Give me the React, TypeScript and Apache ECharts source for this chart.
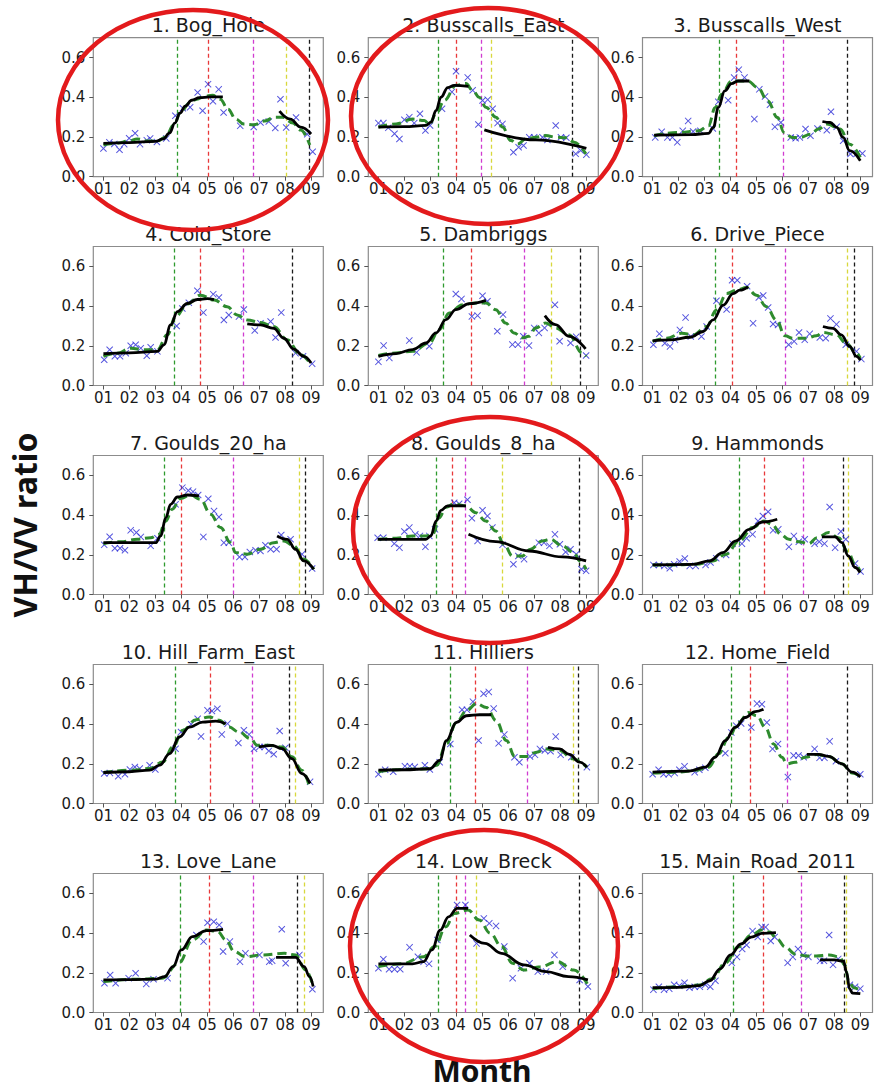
import React, { useEffect, useRef } from "react";
import * as echarts from "echarts";

type Pt = [number, number];
type VL = [number, string];

const TITLES = [
  "1. Bog_Hole", "2. Busscalls_East", "3. Busscalls_West",
  "4. Cold_Store", "5. Dambriggs", "6. Drive_Piece",
  "7. Goulds_20_ha", "8. Goulds_8_ha", "9. Hammonds",
  "10. Hill_Farm_East", "11. Hilliers", "12. Home_Field",
  "13. Love_Lane", "14. Low_Breck", "15. Main_Road_2011",
];
const MONTH_TICKS = [1, 2, 3, 4, 5, 6, 7, 8, 9];
const RATIO_TICKS = [0, 0.2, 0.4, 0.6];
const X_TITLE = "Month";
const Y_TITLE = "VH/VV ratio";

// ---------- 1. Bog_Hole ----------
const P1_SCATTER: Pt[] = [[1.0,0.142],[1.23,0.173],[1.42,0.165],[1.62,0.136],[1.8,0.164],[1.99,0.194],[2.22,0.219],[2.41,0.164],[2.67,0.184],[2.8,0.193],[3.06,0.175],[3.42,0.193],[3.77,0.307],[4.06,0.345],[4.34,0.35],[4.63,0.424],[4.82,0.332],[5.03,0.466],[5.22,0.38],[5.44,0.44],[5.63,0.323],[6.27,0.256],[6.79,0.25],[7.05,0.273],[7.37,0.278],[7.62,0.245],[7.82,0.39],[8.04,0.248],[8.42,0.298],[8.85,0.214],[9.06,0.126]];
const P1_SMOOTH: Pt[] = [[1.0,0.16],[1.5,0.168],[2.0,0.18],[2.3,0.19],[2.7,0.18],[3.1,0.18],[3.4,0.2],[3.7,0.26],[4.0,0.33],[4.3,0.37],[4.6,0.39],[4.9,0.405],[5.2,0.41],[5.5,0.39],[5.8,0.34],[6.1,0.29],[6.4,0.265],[6.8,0.262],[7.2,0.28],[7.6,0.3],[7.9,0.3],[8.3,0.27],[8.6,0.235],[8.95,0.16]];
const P1_FIT_A: Pt[] = [[1.0,0.168],[2.0,0.172],[3.0,0.178],[3.3,0.19],[3.55,0.22],[3.75,0.27],[3.95,0.32],[4.15,0.355],[4.4,0.385],[4.7,0.398],[5.1,0.402],[5.6,0.402]];
const P1_FIT_B: Pt[] = [[7.78,0.33],[8.2,0.29],[8.6,0.25],[9.0,0.215]];
const P1_VLINES: VL[] = [[3.86,"g"],[5.05,"r"],[6.79,"m"],[8.04,"y"],[8.92,"k"]];

// ---------- 2. Busscalls_East ----------
const P2_SCATTER: Pt[] = [[1.0,0.27],[1.19,0.27],[1.38,0.246],[1.62,0.216],[1.81,0.19],[2.0,0.287],[2.19,0.3],[2.38,0.27],[2.6,0.317],[2.81,0.233],[2.99,0.258],[3.45,0.342],[3.83,0.427],[3.99,0.531],[4.44,0.5],[4.63,0.435],[4.85,0.263],[5.01,0.384],[5.21,0.388],[5.4,0.342],[5.59,0.27],[5.78,0.266],[6.2,0.123],[6.4,0.148],[6.59,0.157],[6.81,0.199],[7.0,0.199],[7.32,0.199],[7.51,0.185],[7.83,0.258],[8.03,0.199],[8.24,0.196],[8.6,0.115],[8.79,0.132],[9.01,0.111]];
const P2_SMOOTH: Pt[] = [[1.0,0.25],[1.68,0.266],[2.32,0.29],[2.77,0.283],[2.96,0.263],[3.22,0.317],[3.54,0.384],[3.99,0.46],[4.37,0.469],[4.63,0.435],[4.88,0.4],[5.14,0.35],[5.53,0.3],[5.78,0.25],[6.1,0.182],[6.36,0.165],[6.68,0.19],[7.06,0.199],[7.45,0.207],[7.83,0.199],[8.22,0.196],[8.54,0.174],[8.99,0.115]];
const P2_FIT_A: Pt[] = [[1.0,0.25],[2.0,0.252],[2.83,0.258],[3.03,0.275],[3.22,0.334],[3.41,0.4],[3.67,0.449],[3.92,0.46],[4.47,0.455]];
const P2_FIT_B: Pt[] = [[5.08,0.236],[7.06,0.185],[9.01,0.143]];
const P2_VLINES: VL[] = [[3.32,"g"],[4.0,"r"],[4.96,"m"],[5.36,"y"],[8.45,"k"]];

// ---------- 3. Busscalls_West ----------
const P3_SCATTER: Pt[] = [[1.1,0.198],[1.35,0.226],[1.57,0.198],[1.76,0.198],[1.95,0.173],[2.16,0.231],[2.37,0.281],[2.56,0.228],[2.84,0.231],[3.32,0.243],[3.53,0.377],[3.91,0.385],[4.14,0.499],[4.32,0.539],[4.54,0.499],[4.92,0.29],[5.11,0.44],[5.33,0.404],[5.52,0.362],[5.71,0.251],[5.94,0.273],[6.32,0.198],[6.51,0.194],[6.67,0.198],[6.89,0.24],[7.08,0.206],[7.35,0.243],[7.71,0.234],[7.87,0.327],[8.09,0.251],[8.34,0.181],[8.62,0.114],[8.87,0.117],[9.08,0.117]];
const P3_SMOOTH: Pt[] = [[1.06,0.206],[2.01,0.223],[2.77,0.231],[3.15,0.256],[3.41,0.348],[3.66,0.415],[4.04,0.482],[4.67,0.482],[5.05,0.449],[5.43,0.382],[5.81,0.298],[6.06,0.223],[6.38,0.198],[6.7,0.198],[7.08,0.214],[7.39,0.24],[7.71,0.265],[8.22,0.24],[8.59,0.164],[9.0,0.097]];
const P3_FIT_A: Pt[] = [[1.06,0.209],[2.5,0.212],[3.15,0.218],[3.34,0.248],[3.53,0.348],[3.78,0.432],[4.04,0.469],[4.29,0.482],[4.73,0.482]];
const P3_FIT_B: Pt[] = [[7.54,0.278],[7.84,0.273],[8.09,0.248],[8.34,0.198],[8.59,0.131],[9.0,0.08]];
const P3_VLINES: VL[] = [[3.57,"g"],[4.23,"r"],[6.04,"m"],[8.49,"k"]];

// ---------- 4. Cold_Store ----------
const P4_SCATTER: Pt[] = [[1.03,0.13],[1.24,0.18],[1.44,0.147],[1.64,0.147],[1.86,0.163],[2.05,0.2],[2.24,0.205],[2.44,0.188],[2.67,0.15],[2.82,0.193],[3.08,0.172],[3.82,0.3],[4.04,0.388],[4.29,0.417],[4.62,0.477],[4.85,0.367],[5.23,0.46],[5.45,0.443],[5.64,0.33],[5.83,0.355],[6.22,0.347],[6.41,0.383],[6.83,0.277],[7.05,0.313],[7.44,0.322],[7.63,0.242],[7.85,0.367],[8.4,0.163],[8.69,0.147],[9.04,0.11]];
const P4_SMOOTH: Pt[] = [[1.0,0.147],[1.54,0.163],[2.05,0.188],[2.56,0.18],[3.08,0.18],[3.46,0.255],[3.78,0.347],[4.23,0.41],[4.74,0.455],[5.26,0.43],[5.77,0.397],[6.15,0.355],[6.54,0.33],[7.05,0.317],[7.56,0.297],[8.08,0.23],[8.59,0.155],[9.0,0.105]];
const P4_FIT_A: Pt[] = [[1.0,0.16],[2.0,0.164],[3.08,0.172],[3.33,0.205],[3.59,0.305],[3.85,0.372],[4.23,0.413],[4.62,0.433],[5.0,0.438],[5.26,0.433]];
const P4_FIT_B: Pt[] = [[6.54,0.31],[7.05,0.305],[7.56,0.288],[7.95,0.238],[8.33,0.183],[8.72,0.147],[9.0,0.113]];
const P4_VLINES: VL[] = [[3.74,"g"],[4.74,"r"],[6.38,"m"],[8.27,"k"]];

// ---------- 5. Dambriggs ----------
const P5_SCATTER: Pt[] = [[1.0,0.119],[1.2,0.201],[1.42,0.139],[2.19,0.226],[2.47,0.167],[2.96,0.198],[3.98,0.461],[4.2,0.436],[4.6,0.348],[4.82,0.352],[5.01,0.452],[5.2,0.424],[5.58,0.273],[5.8,0.357],[6.16,0.206],[6.38,0.206],[6.58,0.248],[6.8,0.201],[7.0,0.29],[7.18,0.265],[7.4,0.29],[7.8,0.407],[7.98,0.223],[8.4,0.214],[8.62,0.245],[9.0,0.151]];
const P5_SMOOTH: Pt[] = [[1.0,0.151],[1.68,0.164],[2.32,0.172],[2.96,0.214],[3.34,0.281],[3.73,0.365],[4.24,0.407],[4.75,0.415],[5.14,0.415],[5.52,0.382],[5.9,0.315],[6.22,0.265],[6.54,0.24],[6.8,0.248],[7.06,0.29],[7.44,0.315],[7.82,0.29],[8.34,0.256],[8.85,0.164],[9.0,0.147]];
const P5_FIT_A: Pt[] = [[1.0,0.147],[1.68,0.161],[2.32,0.181],[2.83,0.214],[3.22,0.265],[3.6,0.332],[3.98,0.382],[4.5,0.412],[5.14,0.429]];
const P5_FIT_B: Pt[] = [[7.41,0.352],[7.82,0.307],[8.34,0.248],[8.98,0.184]];
const P5_VLINES: VL[] = [[3.48,"g"],[4.59,"r"],[6.62,"m"],[7.66,"y"],[8.78,"k"]];

// ---------- 6. Drive_Piece ----------
const P6_SCATTER: Pt[] = [[1.03,0.205],[1.26,0.26],[1.47,0.213],[1.67,0.197],[1.86,0.23],[2.05,0.28],[2.27,0.342],[2.47,0.247],[2.88,0.247],[3.08,0.297],[3.46,0.427],[3.85,0.383],[4.06,0.53],[4.26,0.53],[4.64,0.5],[4.87,0.313],[5.09,0.443],[5.26,0.453],[5.45,0.393],[5.64,0.31],[5.83,0.305],[6.24,0.205],[6.45,0.222],[6.64,0.267],[6.86,0.23],[7.05,0.26],[7.44,0.242],[7.67,0.238],[7.85,0.338],[8.08,0.308],[8.44,0.205],[8.85,0.172],[9.04,0.133]];
const P6_SMOOTH: Pt[] = [[1.0,0.222],[1.54,0.238],[2.12,0.263],[2.56,0.255],[3.08,0.297],[3.46,0.38],[3.85,0.463],[4.23,0.48],[4.62,0.493],[5.0,0.455],[5.38,0.397],[5.77,0.33],[6.1,0.25],[6.41,0.238],[6.92,0.238],[7.31,0.25],[7.56,0.267],[8.08,0.255],[8.46,0.213],[8.85,0.163],[9.0,0.138]];
const P6_FIT_A: Pt[] = [[1.0,0.225],[1.67,0.23],[2.44,0.243],[2.95,0.272],[3.33,0.33],[3.72,0.405],[4.1,0.463],[4.36,0.48],[4.68,0.497]];
const P6_FIT_B: Pt[] = [[7.56,0.297],[7.95,0.288],[8.27,0.255],[8.59,0.197],[8.85,0.147],[9.0,0.127]];
const P6_VLINES: VL[] = [[3.41,"g"],[4.08,"r"],[6.12,"m"],[8.51,"y"],[8.77,"k"]];

// ---------- 7. Goulds_20_ha ----------
const P7_SCATTER: Pt[] = [[1.03,0.25],[1.24,0.291],[1.44,0.233],[1.64,0.233],[1.83,0.223],[2.05,0.323],[2.27,0.312],[2.44,0.29],[2.82,0.245],[3.08,0.283],[3.78,0.454],[4.04,0.538],[4.27,0.524],[4.45,0.518],[4.65,0.501],[4.85,0.29],[5.04,0.482],[5.26,0.42],[5.45,0.39],[5.64,0.261],[5.83,0.261],[6.24,0.189],[6.45,0.189],[6.64,0.214],[6.86,0.223],[7.05,0.219],[7.24,0.248],[7.44,0.228],[7.67,0.228],[7.85,0.3],[8.21,0.278],[8.65,0.203],[9.04,0.131]];
const P7_SMOOTH: Pt[] = [[1.0,0.256],[1.67,0.266],[2.31,0.278],[2.82,0.286],[3.14,0.303],[3.4,0.37],[3.65,0.429],[3.97,0.484],[4.36,0.501],[4.74,0.479],[5.13,0.404],[5.51,0.337],[5.9,0.261],[6.09,0.211],[6.54,0.203],[7.05,0.228],[7.56,0.261],[7.95,0.27],[8.33,0.245],[8.72,0.178],[9.1,0.127]];
const P7_FIT_A: Pt[] = [[1.0,0.261],[2.0,0.261],[3.01,0.261],[3.21,0.295],[3.4,0.387],[3.59,0.454],[3.85,0.491],[4.23,0.501],[4.68,0.497]];
const P7_FIT_B: Pt[] = [[7.69,0.295],[8.08,0.278],[8.4,0.228],[8.72,0.169],[9.1,0.127]];
const P7_VLINES: VL[] = [[3.33,"g"],[4.0,"r"],[6.0,"m"],[8.56,"y"],[8.78,"k"]];

// ---------- 8. Goulds_8_ha ----------
const P8_SCATTER: Pt[] = [[0.97,0.286],[1.19,0.286],[1.61,0.256],[1.81,0.236],[2.0,0.317],[2.19,0.337],[2.42,0.303],[2.6,0.295],[2.81,0.24],[2.96,0.295],[3.18,0.328],[3.92,0.462],[4.11,0.457],[4.43,0.477],[4.6,0.384],[4.82,0.27],[5.01,0.424],[5.2,0.395],[5.39,0.337],[5.78,0.25],[6.2,0.152],[6.39,0.194],[6.61,0.178],[7.18,0.261],[7.38,0.261],[7.59,0.245],[7.8,0.303],[7.99,0.253],[8.21,0.214],[8.4,0.228],[8.62,0.203],[8.82,0.127],[9.0,0.119]];
const P8_SMOOTH: Pt[] = [[1.0,0.278],[1.68,0.283],[2.32,0.295],[2.83,0.295],[3.09,0.303],[3.34,0.387],[3.6,0.44],[3.92,0.457],[4.37,0.446],[4.75,0.412],[5.14,0.37],[5.52,0.32],[5.84,0.253],[6.16,0.194],[6.54,0.194],[6.86,0.228],[7.31,0.27],[7.63,0.278],[8.08,0.245],[8.53,0.211],[8.75,0.169],[9.0,0.127]];
const P8_FIT_A: Pt[] = [[0.97,0.278],[2.0,0.278],[2.83,0.278],[3.02,0.295],[3.22,0.37],[3.41,0.424],[3.66,0.446],[3.98,0.447],[4.37,0.446]];
const P8_FIT_B: Pt[] = [[4.47,0.303],[5.52,0.266],[6.8,0.219],[8.08,0.189],[9.0,0.169]];
const P8_VLINES: VL[] = [[3.22,"g"],[3.86,"r"],[4.33,"m"],[5.78,"y"],[8.72,"k"]];

// ---------- 9. Hammonds ----------
const P9_SCATTER: Pt[] = [[1.03,0.149],[1.25,0.149],[1.45,0.144],[1.66,0.132],[1.83,0.152],[2.04,0.166],[2.24,0.181],[2.43,0.144],[2.66,0.144],[3.04,0.149],[3.23,0.161],[3.45,0.183],[3.83,0.199],[4.08,0.256],[4.44,0.256],[4.62,0.283],[4.85,0.303],[5.06,0.37],[5.25,0.395],[5.45,0.417],[5.64,0.323],[5.84,0.328],[6.25,0.24],[6.44,0.295],[6.63,0.266],[6.86,0.278],[7.24,0.256],[7.42,0.266],[7.62,0.256],[7.82,0.441],[8.03,0.236],[8.25,0.317],[8.44,0.278],[8.8,0.156],[9.01,0.116]];
const P9_SMOOTH: Pt[] = [[1.0,0.149],[1.92,0.149],[2.68,0.152],[3.32,0.169],[3.83,0.203],[4.34,0.27],[4.85,0.337],[5.29,0.37],[5.61,0.353],[5.93,0.303],[6.25,0.278],[6.63,0.266],[7.01,0.256],[7.33,0.286],[7.78,0.312],[8.16,0.286],[8.54,0.211],[8.8,0.152],[8.99,0.119]];
const P9_FIT_A: Pt[] = [[1.0,0.149],[2.55,0.152],[3.19,0.169],[3.7,0.211],[4.21,0.27],[4.72,0.328],[5.23,0.365],[5.8,0.379]];
const P9_FIT_B: Pt[] = [[7.52,0.29],[8.03,0.29],[8.29,0.261],[8.54,0.194],[8.8,0.136],[8.99,0.111]];
const P9_VLINES: VL[] = [[4.34,"g"],[5.29,"r"],[6.82,"m"],[8.35,"k"],[8.54,"y"]];

// ---------- 10. Hill_Farm_East ----------
const P10_SCATTER: Pt[] = [[1.03,0.151],[1.25,0.154],[1.57,0.137],[1.83,0.147],[2.02,0.171],[2.21,0.184],[2.4,0.176],[2.78,0.193],[3.0,0.171],[3.78,0.276],[3.99,0.36],[4.38,0.399],[4.63,0.427],[4.76,0.338],[5.01,0.469],[5.18,0.466],[5.39,0.477],[5.56,0.348],[5.78,0.402],[6.2,0.305],[6.41,0.369],[6.61,0.348],[6.8,0.276],[7.01,0.285],[7.21,0.285],[7.37,0.265],[7.56,0.248],[7.79,0.365],[8.01,0.281],[8.96,0.109]];
const P10_SMOOTH: Pt[] = [[1.0,0.156],[2.15,0.168],[2.78,0.176],[3.29,0.209],[3.68,0.285],[4.06,0.369],[4.57,0.422],[5.08,0.436],[5.46,0.419],[5.84,0.385],[6.22,0.36],[6.67,0.327],[6.92,0.293],[7.37,0.293],[7.88,0.285],[8.26,0.235],[8.64,0.168],[8.96,0.075]];
const P10_FIT_A: Pt[] = [[1.0,0.156],[2.0,0.16],[2.78,0.168],[3.17,0.193],[3.55,0.251],[3.93,0.335],[4.31,0.385],[4.82,0.41],[5.33,0.415],[5.71,0.402]];
const P10_FIT_B: Pt[] = [[6.99,0.285],[7.5,0.293],[7.88,0.276],[8.26,0.226],[8.64,0.151],[8.96,0.101]];
const P10_VLINES: VL[] = [[3.78,"g"],[5.1,"r"],[6.73,"m"],[8.17,"k"],[8.39,"y"]];

// ---------- 11. Hilliers ----------
const P11_SCATTER: Pt[] = [[1.0,0.147],[1.26,0.17],[1.57,0.16],[2.02,0.188],[2.21,0.188],[2.4,0.184],[2.79,0.193],[2.98,0.171],[3.36,0.208],[3.77,0.3],[4.22,0.472],[4.41,0.472],[4.64,0.513],[4.86,0.317],[5.05,0.553],[5.25,0.562],[5.44,0.478],[5.63,0.303],[5.85,0.347],[6.24,0.233],[6.43,0.208],[6.84,0.237],[7.03,0.245],[7.22,0.275],[7.41,0.267],[7.63,0.263],[7.83,0.337],[8.02,0.245],[8.43,0.233],[9.03,0.183]];
const P11_SMOOTH: Pt[] = [[1.0,0.16],[2.0,0.172],[2.9,0.175],[3.24,0.192],[3.62,0.3],[4.0,0.408],[4.39,0.467],[4.77,0.503],[5.16,0.483],[5.54,0.417],[5.93,0.317],[6.25,0.237],[6.7,0.237],[7.09,0.258],[7.47,0.275],[7.98,0.267],[8.49,0.225],[9.03,0.183]];
const P11_FIT_A: Pt[] = [[1.0,0.168],[2.0,0.17],[2.98,0.175],[3.36,0.217],[3.62,0.317],[4.0,0.408],[4.39,0.442],[4.9,0.447],[5.35,0.447]];
const P11_FIT_B: Pt[] = [[7.53,0.283],[7.98,0.275],[8.36,0.247],[8.75,0.208],[9.03,0.183]];
const P11_VLINES: VL[] = [[3.77,"g"],[4.74,"r"],[6.75,"m"],[8.51,"y"],[8.69,"k"]];

// ---------- 12. Home_Field ----------
const P12_SCATTER: Pt[] = [[1.0,0.147],[1.23,0.17],[1.42,0.147],[1.62,0.147],[1.85,0.153],[2.03,0.17],[2.23,0.187],[2.62,0.158],[2.8,0.17],[3.03,0.18],[3.8,0.253],[4.03,0.358],[4.22,0.392],[4.41,0.403],[4.8,0.383],[5.02,0.503],[5.21,0.5],[5.4,0.408],[5.62,0.275],[5.83,0.3],[6.21,0.133],[6.43,0.242],[6.62,0.242],[6.82,0.233],[7.24,0.275],[7.43,0.23],[7.62,0.23],[7.82,0.313],[8.06,0.213],[9.0,0.147]];
const P12_SMOOTH: Pt[] = [[1.0,0.153],[2.0,0.158],[2.64,0.167],[3.16,0.183],[3.54,0.25],[3.93,0.333],[4.31,0.408],[4.7,0.458],[5.02,0.442],[5.34,0.383],[5.66,0.3],[5.98,0.233],[6.17,0.2],[6.49,0.208],[6.88,0.233],[7.33,0.247],[7.78,0.237],[8.29,0.2],[8.68,0.153],[9.0,0.137]];
const P12_FIT_A: Pt[] = [[1.0,0.158],[2.39,0.163],[3.03,0.183],[3.41,0.233],[3.8,0.317],[4.18,0.383],[4.57,0.433],[4.95,0.463],[5.27,0.475]];
const P12_FIT_B: Pt[] = [[6.94,0.247],[7.39,0.247],[7.78,0.237],[8.29,0.2],[8.68,0.158],[9.0,0.133]];
const P12_VLINES: VL[] = [[4.02,"g"],[4.76,"r"],[6.17,"m"],[8.48,"k"]];

// ---------- 13. Love_Lane ----------
const P13_SCATTER: Pt[] = [[1.04,0.147],[1.26,0.189],[1.47,0.147],[1.97,0.173],[2.24,0.198],[2.65,0.144],[2.93,0.168],[3.47,0.173],[4.58,0.39],[4.86,0.357],[5.01,0.452],[5.25,0.457],[5.46,0.441],[5.61,0.307],[5.87,0.357],[6.26,0.256],[6.47,0.298],[7.01,0.29],[7.39,0.256],[7.5,0.261],[7.87,0.419],[8.02,0.248],[8.55,0.29],[9.05,0.117]];
const P13_SMOOTH: Pt[] = [[1.0,0.156],[2.39,0.168],[3.25,0.173],[3.9,0.248],[4.43,0.365],[4.97,0.415],[5.4,0.407],[5.72,0.365],[6.04,0.307],[6.47,0.281],[7.12,0.29],[7.97,0.298],[8.4,0.29],[8.79,0.214],[9.08,0.131]];
const P13_FIT_A: Pt[] = [[1.0,0.164],[2.0,0.166],[3.04,0.168],[3.36,0.181],[3.68,0.231],[4.0,0.315],[4.43,0.382],[4.97,0.412],[5.61,0.419]];
const P13_FIT_B: Pt[] = [[7.65,0.278],[8.4,0.278],[8.73,0.231],[8.94,0.181],[9.08,0.131]];
const P13_VLINES: VL[] = [[3.96,"g"],[5.08,"r"],[6.79,"m"],[8.45,"k"],[8.73,"y"]];

// ---------- 14. Low_Breck ----------
const P14_SCATTER: Pt[] = [[1.0,0.223],[1.19,0.268],[1.41,0.218],[1.62,0.218],[1.84,0.218],[2.2,0.328],[2.52,0.281],[2.74,0.256],[2.95,0.245],[3.27,0.365],[4.03,0.541],[4.35,0.541],[4.78,0.348],[5.06,0.474],[5.27,0.449],[5.53,0.436],[5.85,0.332],[6.17,0.173],[6.49,0.223],[6.82,0.248],[7.14,0.206],[7.46,0.206],[7.78,0.29],[8.1,0.231],[8.75,0.164],[9.07,0.131]];
const P14_SMOOTH: Pt[] = [[1.0,0.231],[1.88,0.245],[2.74,0.281],[3.17,0.332],[3.6,0.432],[3.92,0.499],[4.45,0.516],[4.88,0.466],[5.31,0.399],[5.74,0.332],[6.17,0.248],[6.6,0.214],[7.24,0.231],[7.89,0.256],[8.53,0.214],[9.07,0.139]];
const P14_FIT_A: Pt[] = [[1.0,0.245],[2.31,0.245],[2.74,0.256],[3.06,0.315],[3.38,0.415],[3.7,0.482],[4.03,0.524],[4.45,0.524]];
const P14_FIT_B: Pt[] = [[4.52,0.39],[5.1,0.348],[5.74,0.298],[6.6,0.24],[7.46,0.206],[8.32,0.181],[9.07,0.164]];
const P14_VLINES: VL[] = [[3.32,"g"],[3.98,"r"],[4.35,"m"],[4.78,"y"],[8.75,"k"]];

// ---------- 15. Main_Road_2011 ----------
const P15_SCATTER: Pt[] = [[1.03,0.115],[1.24,0.13],[1.44,0.115],[1.64,0.12],[1.83,0.14],[2.03,0.135],[2.23,0.15],[2.42,0.125],[2.62,0.13],[2.82,0.13],[3.03,0.14],[3.22,0.13],[3.42,0.16],[4.05,0.25],[4.25,0.28],[4.45,0.32],[4.62,0.34],[4.85,0.41],[5.05,0.38],[5.2,0.43],[5.35,0.43],[5.55,0.36],[5.7,0.38],[6.2,0.25],[6.4,0.28],[6.6,0.32],[6.8,0.29],[7.0,0.28],[7.45,0.26],[7.6,0.26],[7.8,0.39],[7.95,0.24],[8.15,0.27],[8.6,0.14],[8.8,0.13],[9.0,0.12]];
const P15_SMOOTH: Pt[] = [[1.0,0.12],[2.0,0.13],[2.8,0.138],[3.3,0.17],[3.8,0.25],[4.3,0.33],[4.8,0.39],[5.2,0.415],[5.5,0.405],[5.8,0.37],[6.1,0.33],[6.5,0.295],[6.9,0.285],[7.3,0.285],[7.8,0.29],[8.2,0.28],[8.4,0.24],[8.55,0.16],[8.75,0.125],[9.0,0.11]];
const P15_FIT_A: Pt[] = [[1.0,0.125],[2.0,0.127],[2.8,0.135],[3.2,0.16],[3.6,0.22],[4.0,0.29],[4.4,0.345],[4.8,0.38],[5.2,0.398],[5.75,0.402]];
const P15_FIT_B: Pt[] = [[7.45,0.265],[8.0,0.265],[8.35,0.258],[8.48,0.2],[8.58,0.12],[8.7,0.098],[9.0,0.095]];
const P15_VLINES: VL[] = [[4.11,"g"],[5.27,"r"],[6.73,"m"],[8.4,"k"],[8.45,"y"]];

const PANELS = [
  { scatter: P1_SCATTER, smooth: P1_SMOOTH, fits: [P1_FIT_A, P1_FIT_B], vlines: P1_VLINES },
  { scatter: P2_SCATTER, smooth: P2_SMOOTH, fits: [P2_FIT_A, P2_FIT_B], vlines: P2_VLINES },
  { scatter: P3_SCATTER, smooth: P3_SMOOTH, fits: [P3_FIT_A, P3_FIT_B], vlines: P3_VLINES },
  { scatter: P4_SCATTER, smooth: P4_SMOOTH, fits: [P4_FIT_A, P4_FIT_B], vlines: P4_VLINES },
  { scatter: P5_SCATTER, smooth: P5_SMOOTH, fits: [P5_FIT_A, P5_FIT_B], vlines: P5_VLINES },
  { scatter: P6_SCATTER, smooth: P6_SMOOTH, fits: [P6_FIT_A, P6_FIT_B], vlines: P6_VLINES },
  { scatter: P7_SCATTER, smooth: P7_SMOOTH, fits: [P7_FIT_A, P7_FIT_B], vlines: P7_VLINES },
  { scatter: P8_SCATTER, smooth: P8_SMOOTH, fits: [P8_FIT_A, P8_FIT_B], vlines: P8_VLINES },
  { scatter: P9_SCATTER, smooth: P9_SMOOTH, fits: [P9_FIT_A, P9_FIT_B], vlines: P9_VLINES },
  { scatter: P10_SCATTER, smooth: P10_SMOOTH, fits: [P10_FIT_A, P10_FIT_B], vlines: P10_VLINES },
  { scatter: P11_SCATTER, smooth: P11_SMOOTH, fits: [P11_FIT_A, P11_FIT_B], vlines: P11_VLINES },
  { scatter: P12_SCATTER, smooth: P12_SMOOTH, fits: [P12_FIT_A, P12_FIT_B], vlines: P12_VLINES },
  { scatter: P13_SCATTER, smooth: P13_SMOOTH, fits: [P13_FIT_A, P13_FIT_B], vlines: P13_VLINES },
  { scatter: P14_SCATTER, smooth: P14_SMOOTH, fits: [P14_FIT_A, P14_FIT_B], vlines: P14_VLINES },
  { scatter: P15_SCATTER, smooth: P15_SMOOTH, fits: [P15_FIT_A, P15_FIT_B], vlines: P15_VLINES },
];

// highlighted panels (red ellipses): [cx, cy, rx, ry]
const HIGHLIGHTS: [number, number, number, number][] = [
  [193, 120, 135, 110],
  [488, 116, 137, 108],
  [490, 530, 137, 113],
  [484, 946, 134, 116],
];

const VLINE_COLORS: Record<string, string> = {
  g: "#2e9a2e", r: "#e8393a", m: "#d03cd0", y: "#d8d83c", k: "#1a1a1a",
};

const COL_LEFT = [93.3, 368.3, 642.5];
const ROW_TOP = [37.7, 246.5, 455.5, 664.5, 873.5];
const PLOT_W = 230;
const PLOT_H = 139;
const X_MARK = "path://M1,0L5,4L9,0L10,1L6,5L10,9L9,10L5,6L1,10L0,9L4,5L0,1Z";
const TICK_FONT = "DejaVu Sans";

export default function App() {
  const ref = useRef<HTMLDivElement>(null);
  useEffect(() => {
    if (!ref.current) return;
    const chart = echarts.init(ref.current, undefined, { renderer: "svg" });
    const grid: any[] = [];
    const xAxis: any[] = [];
    const yAxis: any[] = [];
    const series: any[] = [];
    const graphic: any[] = [];

    PANELS.forEach((p, i) => {
      const left = COL_LEFT[i % 3];
      const top = ROW_TOP[Math.floor(i / 3)];
      grid.push({
        left, top, width: PLOT_W, height: PLOT_H,
        show: true, borderColor: "#8c8c8c", borderWidth: 1.2, backgroundColor: "#fff",
      });
      xAxis.push({
        type: "value", gridIndex: i, min: 0.61, max: 9.47,
        axisLine: { show: false, onZero: false },
        splitLine: { show: false },
        axisTick: { show: true, length: 4, lineStyle: { color: "#555" }, customValues: MONTH_TICKS },
        axisLabel: {
          customValues: MONTH_TICKS, hideOverlap: false,
          formatter: (v: number) => (v < 10 ? "0" : "") + Math.round(v),
          fontFamily: TICK_FONT, fontSize: 15, color: "#1a1a1a", margin: 5,
        },
      });
      yAxis.push({
        type: "value", gridIndex: i, min: 0, max: 0.7,
        axisLine: { show: false, onZero: false },
        splitLine: { show: false },
        axisTick: { show: true, length: 4, lineStyle: { color: "#555" }, customValues: RATIO_TICKS },
        axisLabel: {
          customValues: RATIO_TICKS, hideOverlap: false,
          formatter: (v: number) => v.toFixed(1),
          fontFamily: TICK_FONT, fontSize: 15, color: "#1a1a1a", margin: 8,
        },
      });
      series.push({
        type: "scatter", xAxisIndex: i, yAxisIndex: i, data: p.scatter,
        symbol: X_MARK, symbolSize: 7, itemStyle: { color: "#2a2ad6" }, z: 3,
        markLine: {
          silent: true, z: 1, symbol: ["none", "none"], label: { show: false },
          emphasis: { disabled: true },
          data: p.vlines.map(([x, c]) => ({
            xAxis: x,
            lineStyle: { color: VLINE_COLORS[c], type: [4, 3], width: 1.3 },
          })),
        },
      });
      series.push({
        type: "line", xAxisIndex: i, yAxisIndex: i, data: p.smooth,
        smooth: 0.4, smoothMonotone: "x", symbol: "none", showSymbol: false,
        lineStyle: { color: "#2e8b2e", width: 3, type: [9, 5] }, z: 4,
      });
      p.fits.forEach((seg) => {
        series.push({
          type: "line", xAxisIndex: i, yAxisIndex: i, data: seg,
          smooth: 0.4, smoothMonotone: "x", symbol: "none", showSymbol: false,
          lineStyle: { color: "#000", width: 2.8 }, z: 5,
        });
      });
      graphic.push({
        type: "text", x: left + PLOT_W / 2, y: top - 13, silent: true,
        style: {
          text: TITLES[i], fontSize: 19, fontFamily: TICK_FONT, fill: "#1a1a1a",
          align: "center", verticalAlign: "middle", textAlign: "center", textVerticalAlign: "middle",
        },
      });
    });

    graphic.push({
      type: "text", x: 24, y: 525, rotation: Math.PI / 2, silent: true,
      style: {
        text: Y_TITLE, fontSize: 32, fontWeight: "bold", fontFamily: "Noto Sans", fill: "#111",
        align: "center", verticalAlign: "middle", textAlign: "center", textVerticalAlign: "middle",
      },
    });
    graphic.push({
      type: "text", x: 482, y: 1070, silent: true,
      style: {
        text: X_TITLE, fontSize: 30, fontWeight: "bold", fontFamily: "Noto Sans", fill: "#111",
        align: "center", verticalAlign: "middle", textAlign: "center", textVerticalAlign: "middle",
      },
    });
    HIGHLIGHTS.forEach(([cx, cy, rx, ry]) => {
      graphic.push({
        type: "ellipse", silent: true, z: 100,
        shape: { cx, cy, rx, ry },
        style: { fill: "none", stroke: "#e31a1c", lineWidth: 4.5 },
      });
    });

    chart.setOption({
      animation: false,
      backgroundColor: "#fff",
      grid, xAxis, yAxis, series, graphic,
    });
    return () => chart.dispose();
  }, []);
  return (
    <div
      ref={ref}
      style={{ position: "absolute", left: 0, top: 0, width: 874, height: 1092, background: "#fff" }}
    />
  );
}
